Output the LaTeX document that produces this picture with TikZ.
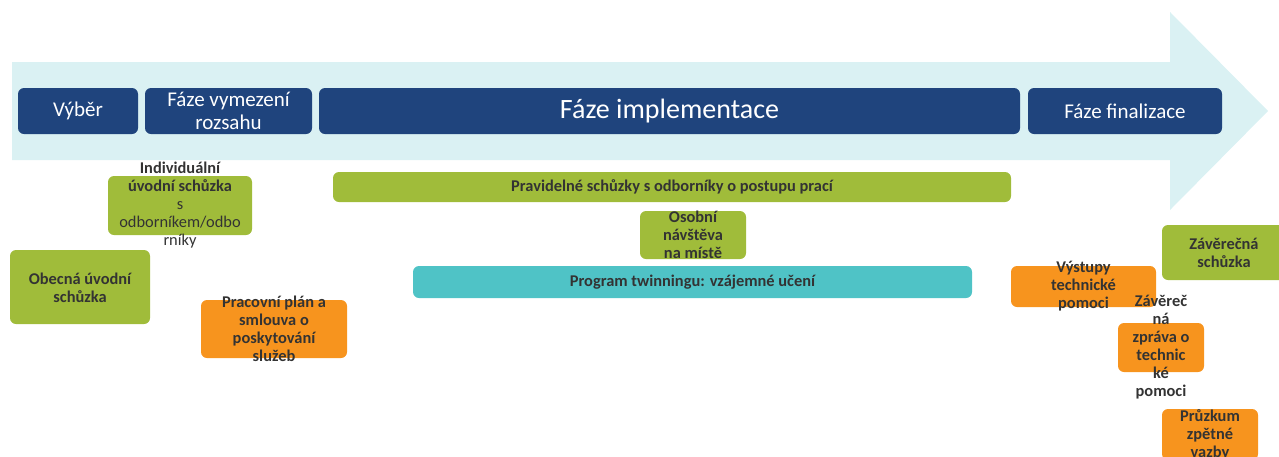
\documentclass[tikz,border=0pt]{standalone}
\usepackage{fontspec}
\setmainfont{Carlito}
\usetikzlibrary{positioning}
\definecolor{fazeblue}{RGB}{31, 68, 125}
\definecolor{zelena}{RGB}{160, 188, 58}
\definecolor{oranzova}{RGB}{247, 148, 30}
\definecolor{tyrkys}{RGB}{79, 195, 198}
\definecolor{sipka}{RGB}{218, 241, 243}
\definecolor{sedy}{RGB}{51, 51, 51}

\begin{document}
\begin{tikzpicture}[x=0.5pt, y=-0.5pt,
  faze/.style={rounded corners=3pt, fill=fazeblue, text=white, inner sep=0pt, align=center, font=\fontsize{10.5}{11.5}\selectfont},
  krabice/.style={rounded corners=3pt, inner sep=0pt},
  txt/.style={text=sedy, align=center, inner sep=0pt, font=\fontsize{8.2}{9}\selectfont\bfseries}]
  \useasboundingbox (0,0) rectangle (1279,456);
  % sipka v pozadi
  \fill[sipka] (12,62) -- (1170,62) -- (1170,12) -- (1268,111) -- (1170,210) -- (1170,160) -- (12,160) -- cycle;
  % faze
  \node[faze, minimum width=60pt, minimum height=23pt] (vyber) at (78,111) {Výběr};
  \node[faze, minimum width=83.5pt, minimum height=23pt] (vymezeni) at (228.5,111) {Fáze vymezení\\rozsahu};
  \node[faze, minimum width=350.5pt, minimum height=23pt, font=\fontsize{14}{16}\selectfont] (impl) at (669.5,111) {Fáze implementace};
  \node[faze, minimum width=97pt, minimum height=23pt] (final) at (1125,111) {Fáze finalizace};
  % krabice
  \node[krabice, fill=zelena, minimum width=72pt, minimum height=29.5pt] (indiv) at (180,205.5) {};
  \node[krabice, fill=zelena, minimum width=70pt, minimum height=37pt] (obecna) at (80,287) {};
  \node[krabice, fill=oranzova, minimum width=73pt, minimum height=29pt] (plan) at (274,329) {};
  \node[krabice, fill=zelena, minimum width=339pt, minimum height=15pt] (pravidelne) at (672,187) {};
  \node[krabice, fill=zelena, minimum width=53pt, minimum height=24pt] (osobni) at (693,235) {};
  \node[krabice, fill=tyrkys, minimum width=279.5pt, minimum height=16pt] (twinning) at (692.5,282) {};
  \node[krabice, fill=oranzova, minimum width=72.5pt, minimum height=20.5pt] (vystupy) at (1083.5,286.5) {};
  \node[krabice, fill=zelena, minimum width=62pt, minimum height=27.5pt] (zaver) at (1224,252.5) {};
  \node[krabice, fill=oranzova, minimum width=43pt, minimum height=24.5pt] (zprava) at (1161,347.5) {};
  \node[krabice, fill=oranzova, minimum width=48pt, minimum height=25.5pt] (pruzkum) at (1210,434.5) {};
  % texty
  \node[txt] (t-indiv) at (indiv.center) {Individuální\\úvodní schůzka\\\mdseries s\\\mdseries odborníkem/odbo\\\mdseries rníky};
  \node[txt] (t-obecna) at ([yshift=-0.5pt]obecna.center) {Obecná úvodní\\schůzka};
  \node[txt] (t-plan) at (plan.center) {Pracovní plán a\\smlouva o\\poskytování\\služeb};
  \node[txt] (t-pravidelne) at (pravidelne.center) {Pravidelné schůzky s odborníky o postupu prací};
  \node[txt] (t-osobni) at (osobni.center) {Osobní\\návštěva\\na místě};
  \node[txt] (t-twinning) at (twinning.center) {Program twinningu: vzájemné učení};
  \node[txt] (t-vystupy) at (vystupy.center) {Výstupy\\technické\\pomoci};
  \node[txt] (t-zaver) at (zaver.center) {Závěrečná\\schůzka};
  \node[txt] (t-zprava) at (zprava.center) {Závěreč\\ná\\zpráva o\\technic\\ké\\pomoci};
  \node[txt] (t-pruzkum) at (pruzkum.center) {Průzkum\\zpětné\\vazby};
\end{tikzpicture}
\end{document}
